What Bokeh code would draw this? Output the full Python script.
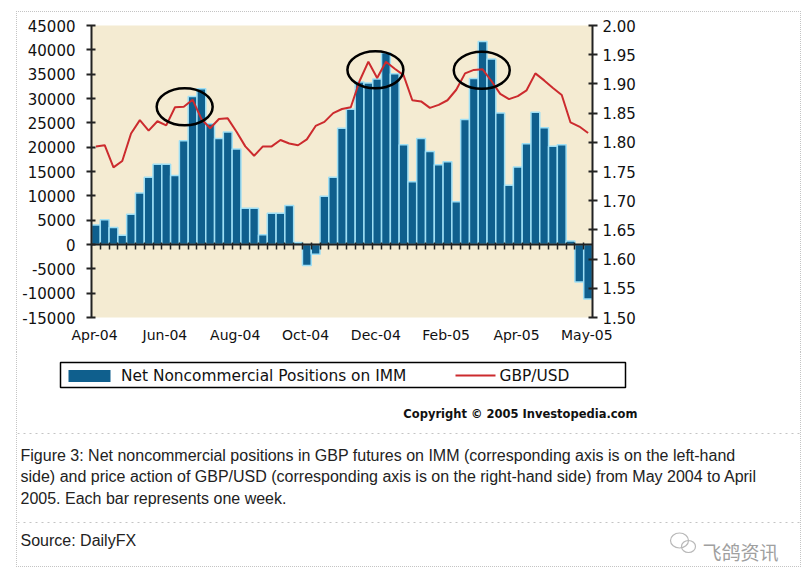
from bokeh.plotting import figure
from bokeh.layouts import column, row
from bokeh.models import (LinearAxis, Range1d, FixedTicker, Label, ColumnDataSource,
                          NumeralTickFormatter, CustomJSTickFormatter, Spacer)
from bokeh.embed import file_html
from bokeh.resources import INLINE

# ---------------- data ----------------
weeks = list(range(1, 58))
net_positions = [4000, 5100, 3500, 1900, 6200, 10600, 13800, 16500, 16500, 14200,
                 21300, 30400, 32000, 24800, 21800, 23100, 19600, 7450, 7450, 2000,
                 6400, 6400, 8000, 400, -4300, -2000, 9900, 13800, 23900, 27800,
                 33400, 33200, 34000, 39400, 35100, 20500, 12900, 21800, 19100, 16400,
                 17000, 8800, 25700, 34100, 41700, 38100, 27000, 12200, 15900, 20700,
                 27200, 24000, 20200, 20500, 700, -7700, -11200]
gbpusd = [1.793, 1.795, 1.757, 1.768, 1.815, 1.838, 1.820, 1.836, 1.829, 1.860,
          1.861, 1.873, 1.840, 1.824, 1.840, 1.841, 1.818, 1.793, 1.777, 1.793,
          1.793, 1.804, 1.798, 1.795, 1.805, 1.828, 1.835, 1.850, 1.857, 1.860,
          1.905, 1.938, 1.910, 1.938, 1.926, 1.915, 1.872, 1.870, 1.859, 1.864,
          1.872, 1.890, 1.918, 1.924, 1.925, 1.905, 1.883, 1.874, 1.879, 1.889,
          1.918, 1.906, 1.893, 1.881, 1.834, 1.827, 1.816]
x_tick_labels = ["Apr-04", "Jun-04", "Aug-04", "Oct-04", "Dec-04", "Feb-05", "Apr-05", "May-05"]
left_ticks = [-15000, -10000, -5000, 0, 5000, 10000, 15000, 20000, 25000, 30000, 35000, 40000, 45000]
right_ticks = [1.50, 1.55, 1.60, 1.65, 1.70, 1.75, 1.80, 1.85, 1.90, 1.95, 2.00]
highlight_weeks = [11.1, 32.8, 44.9]
highlight_levels = [28300, 35900, 35800]

series_names = ["Net Noncommercial Positions on IMM", "GBP/USD"]
caption_lines = [
    "Figure 3: Net noncommercial positions in GBP futures on IMM (corresponding axis is on the left-hand",
    "side) and price action of GBP/USD (corresponding axis is on the right-hand side) from May 2004 to April",
    "2005. Each bar represents one week.",
]
source_text = "Source: DailyFX"
copyright_text = "Copyright \u00a9 2005 Investopedia.com"
watermark_text = "飞鸽资讯"

# ---------------- styles ----------------
BEIGE = "#f4ebd2"
BAR = "#0f5f8d"
CYAN = "#9edff5"
RED = "#cc2b2e"
AXIS = "#222222"
DOT = "#c4c4c4"
INK = "#111111"
DOTTED = "1px dotted " + DOT

src = ColumnDataSource(dict(week=weeks, net=net_positions, price=gbpusd))

# ---------------- chart ----------------
p = figure(width=783, height=340, x_range=Range1d(0.5, 57.5), y_range=Range1d(-15000, 45000),
           output_backend="svg", toolbar_location=None,
           min_border_left=74, min_border_right=208, min_border_top=13, min_border_bottom=35,
           background_fill_color=BEIGE, border_fill_color="white", outline_line_color=None)
p.grid.visible = False
p.extra_y_ranges = {"price": Range1d(1.50, 2.00)}

bars = p.vbar(x="week", top="net", bottom=0, width=1.0, source=src,
              fill_color=BAR, line_color=CYAN, line_width=1.5)
line = p.line(x="week", y="price", source=src, y_range_name="price",
              line_color=RED, line_width=2)
p.ellipse(x=highlight_weeks, y=highlight_levels, width=56, height=37,
          width_units="screen", height_units="screen",
          fill_color=None, line_color="black", line_width=2.5)


def style_value_axis(ax, standoff):
    ax.axis_line_width = 2
    ax.axis_line_color = AXIS
    ax.major_tick_line_color = AXIS
    ax.major_tick_line_width = 2
    ax.major_tick_in = 4
    ax.major_tick_out = 5
    ax.minor_tick_line_color = None
    ax.major_label_standoff = standoff
    ax.major_label_text_font = "DejaVu Sans"
    ax.major_label_text_font_size = "15px"
    ax.major_label_text_color = INK


ya = p.yaxis[0]
ya.ticker = FixedTicker(ticks=left_ticks)
ya.major_label_overrides = {t: str(t) for t in left_ticks}
style_value_axis(ya, 11)

ra = LinearAxis(y_range_name="price", ticker=FixedTicker(ticks=right_ticks),
                formatter=NumeralTickFormatter(format="0.00"))
style_value_axis(ra, 5)
p.add_layout(ra, "right")

xa = p.xaxis[0]
x_tick_pos = [0.85 + 8 * k for k in range(len(x_tick_labels))]
xa.ticker = FixedTicker(ticks=x_tick_pos)
xa.major_label_overrides = dict(zip(x_tick_pos, x_tick_labels))
xa.axis_line_color = None
xa.major_tick_line_color = None
xa.major_tick_out = 0
xa.major_tick_in = 0
xa.minor_tick_line_color = None
xa.major_label_standoff = 9
xa.major_label_text_font = "DejaVu Sans"
xa.major_label_text_font_size = "14px"
xa.major_label_text_color = INK

# category line at zero with week separators
za = LinearAxis(fixed_location=0, ticker=FixedTicker(ticks=[w + 0.5 for w in weeks[:-1]]),
                formatter=CustomJSTickFormatter(code="return ''"))
za.axis_line_width = 2
za.axis_line_color = AXIS
za.major_tick_line_color = AXIS
za.major_tick_line_width = 1.5
za.major_tick_in = 5
za.major_tick_out = 2
za.minor_tick_line_color = None
za.major_label_standoff = 0
za.major_label_text_font_size = "0px"
p.add_layout(za, "above")

# ---------------- legend, caption (page-pixel canvas) ----------------
q = figure(width=783, height=214, x_range=Range1d(17, 800), y_range=Range1d(566, 352),
           output_backend="svg", toolbar_location=None,
           x_axis_location=None, y_axis_location=None,
           min_border=0, min_border_left=0, min_border_right=0, min_border_top=0, min_border_bottom=0,
           background_fill_color="white", border_fill_color="white", outline_line_color=None)
q.grid.visible = False

# legend
q.quad(left=[60], right=[625], top=[362], bottom=[387], fill_color=None,
       line_color="black", line_width=1.5)
q.quad(left=[68], right=[110], top=[369.5], bottom=[381.5], fill_color=BAR, line_color=None)
q.segment(x0=[455], y0=[375], x1=[495], y1=[375], line_color=RED, line_width=2)
for x0, name in zip([120.5, 499], series_names):
    q.add_layout(Label(x=x0, y=375.5, text=name, text_font="DejaVu Sans", text_font_size="15.4px",
                       text_color=INK, text_baseline="middle"))

q.add_layout(Label(x=637, y=413, text=copyright_text, text_font="DejaVu Sans",
                   text_font_size="11.5px", text_font_style="bold", text_color=INK,
                   text_align="right", text_baseline="alphabetic"))

# dotted separators of the caption panel
q.segment(x0=[17, 17], y0=[433, 522], x1=[800, 800], y1=[433, 522],
          line_color=DOT, line_width=1, line_dash="dotted")

for i, t in enumerate(caption_lines):
    q.add_layout(Label(x=20, y=455 + 21.4 * i, text=t, text_font="Liberation Sans",
                       text_font_size="16px", text_color="#222222", text_baseline="alphabetic"))
q.add_layout(Label(x=20, y=540, text=source_text, text_font="Liberation Sans",
                   text_font_size="16px", text_color="#222222", text_baseline="alphabetic"))

# watermark
q.ellipse(x=[679, 688], y=[540, 546], width=[18, 14], height=[15, 12],
          fill_color=None, line_color="#b8b8b8", line_width=1.2)
q.add_layout(Label(x=702, y=551, text=watermark_text, text_font="Noto Sans CJK SC",
                   text_font_size="19px", text_color="#a0a0a0", text_baseline="alphabetic"))

top_box = column(p, styles={"border-top": DOTTED, "border-left": DOTTED, "border-right": DOTTED})
bottom_box = column(q, styles={"border-left": DOTTED, "border-right": DOTTED, "border-bottom": DOTTED})
root_top = column(Spacer(height=11), row(Spacer(width=16), top_box))
root_bottom = row(Spacer(width=16), bottom_box)

open("out.html", "w").write(file_html([root_top, root_bottom], INLINE))
